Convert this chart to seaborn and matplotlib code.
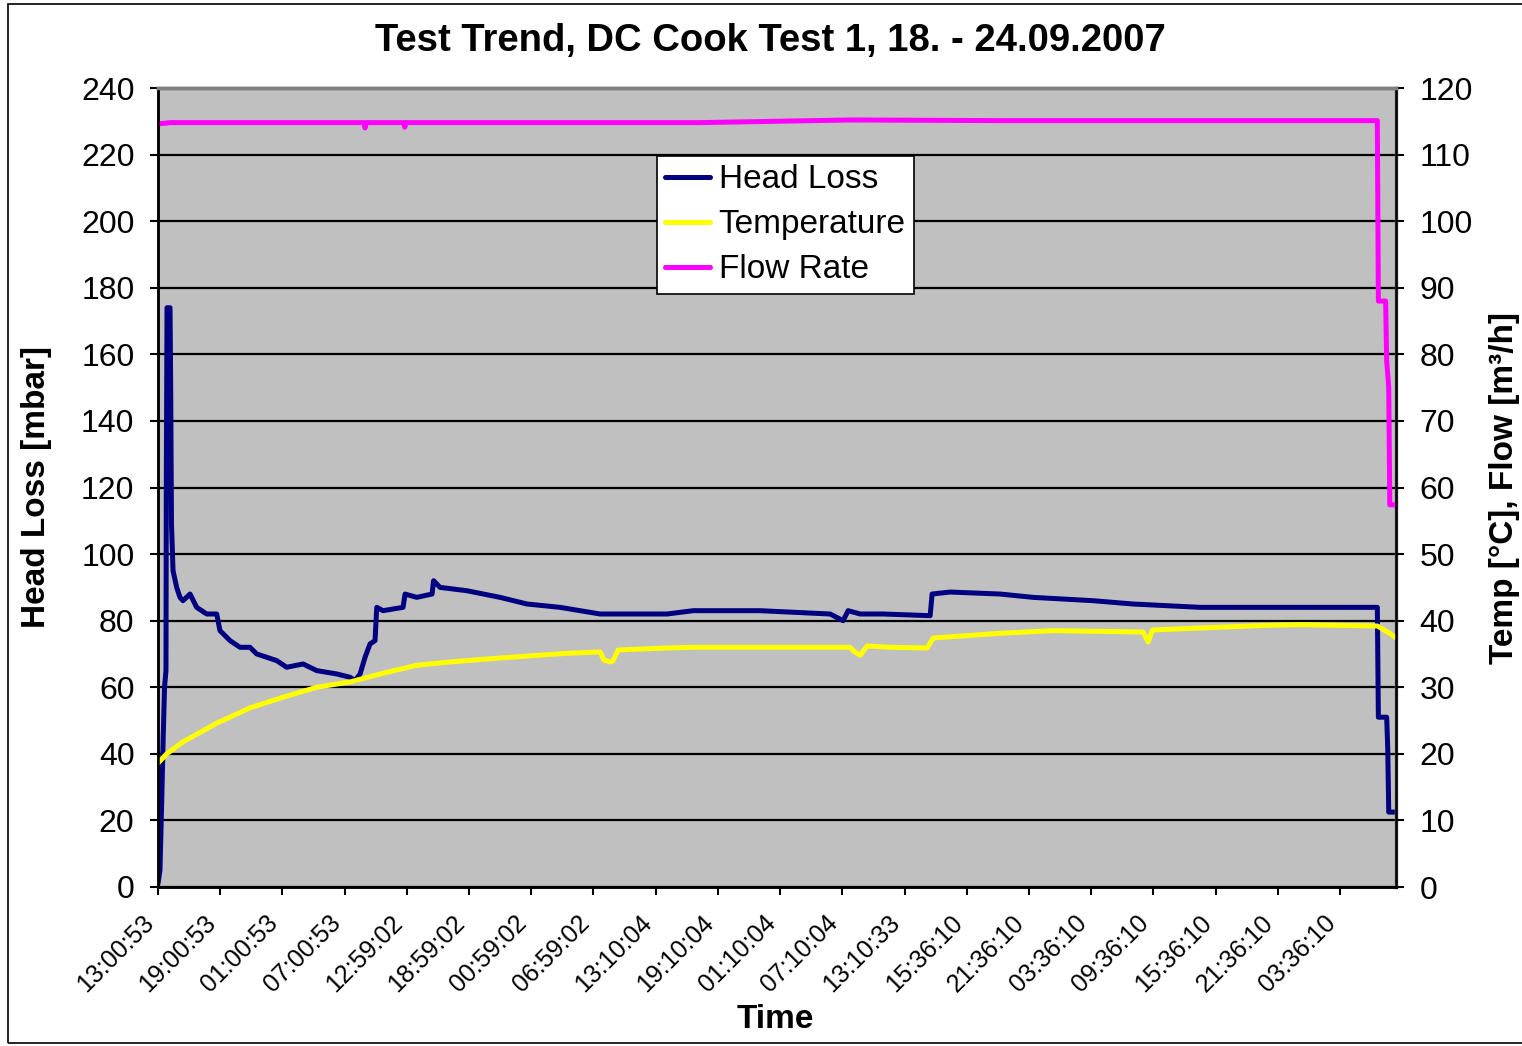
import matplotlib
matplotlib.use("Agg")
import matplotlib.pyplot as plt
from matplotlib.patches import Rectangle
from matplotlib.lines import Line2D
from matplotlib.transforms import ScaledTranslation, blended_transform_factory
import seaborn as sns
import pandas as pd

# Elapsed time in hours from the start of the test (13:00:53 on 18.09.2007)
hl_hours = [0.0, 0.19, 0.36, 0.51, 0.63, 0.77, 0.80, 0.87, 1.16, 1.23, 1.30, 1.45, 1.80,
            2.12, 2.41, 3.09, 3.73, 4.70, 5.66, 5.98, 6.95, 7.91, 8.87, 9.52, 10.49,
            11.45, 12.41, 13.99, 15.31, 17.24, 18.52, 19.00, 19.49, 19.97, 20.45, 20.93,
            21.10, 21.70, 23.63, 23.83, 24.95, 26.43, 26.58, 27.20, 29.78, 32.99, 35.60,
            38.78, 42.64, 46.50, 49.10, 51.61, 58.07, 64.82, 66.08, 66.56, 67.72, 69.94,
            74.47, 74.66, 76.40, 81.22, 84.40, 90.19, 94.05, 100.51, 110.16, 117.60,
            117.70, 118.50, 118.60, 118.70, 119.40]
head_loss = [1, 5, 26, 46, 60, 65, 120, 174, 174, 147, 109, 95, 90,
             87, 86, 88, 84, 82, 82, 77, 74, 72, 72, 70, 69,
             68, 66, 67, 65, 64, 63, 62, 64, 69, 73, 74,
             84, 83, 84, 88, 87, 88, 92, 90, 89, 87, 85,
             84, 82, 82, 82, 83, 83, 82, 80, 83, 82, 82,
             81.5, 88, 88.6, 88, 87, 86, 85, 84, 84, 84,
             51, 51, 42, 22.5, 22.5]

temp_hours = [0.0, 0.84, 2.41, 5.66, 8.87, 12.06, 15.31, 18.52, 21.70, 24.95, 28.17,
              32.99, 39.45, 42.64, 43.00, 43.60, 43.90, 44.37, 49.10, 51.60, 66.75,
              67.20, 67.72, 68.39, 70.60, 74.18, 74.76, 81.22, 86.33, 95.00, 95.50,
              95.90, 100.51, 107.00, 110.16, 117.60, 118.80, 119.40]
temperature = [18.6, 20.0, 21.8, 24.6, 26.9, 28.5, 30.0, 30.8, 32.1, 33.3, 33.8,
               34.4, 35.1, 35.3, 34.1, 33.8, 34.0, 35.6, 35.9, 36.0, 36.0,
               35.3, 34.8, 36.2, 36.0, 35.9, 37.4, 38.1, 38.5, 38.3, 36.8,
               38.6, 38.9, 39.3, 39.4, 39.2, 38.1, 37.4]

flow_hours = [0.0, 1.16, 19.85, 19.97, 20.10, 23.70, 23.80, 23.90, 52.30, 66.80, 81.20,
              117.60, 117.70, 118.40, 118.50, 118.70, 118.80, 119.40]
flow_rate = [114.6, 114.8, 114.8, 114.0, 114.8, 114.8, 114.1, 114.8, 114.8, 115.2, 115.1,
             115.1, 88.0, 88.0, 79.0, 75.0, 57.4, 57.4]

tick_labels = ["13:00:53", "19:00:53", "01:00:53", "07:00:53", "12:59:02", "18:59:02",
               "00:59:02", "06:59:02", "13:10:04", "19:10:04", "01:10:04", "07:10:04",
               "13:10:33", "15:36:10", "21:36:10", "03:36:10", "09:36:10", "15:36:10",
               "21:36:10", "03:36:10", ""]
tick_step_hours = 6

df_hl = pd.DataFrame({"hours": hl_hours, "value": head_loss})
df_t = pd.DataFrame({"hours": temp_hours, "value": temperature})
df_f = pd.DataFrame({"hours": flow_hours, "value": flow_rate})

sns.set_theme(style="white")
plt.rcParams["font.family"] = ["Liberation Sans", "DejaVu Sans"]
plt.rcParams.update({"text.color": "black", "axes.labelcolor": "black",
                     "xtick.color": "black", "ytick.color": "black"})

fig = plt.figure(figsize=(15.22, 10.46), dpi=100)
ax = fig.add_axes([158 / 1522, 1 - 887 / 1046, (1396 - 158) / 1522, (887 - 88) / 1046])
ax.set_facecolor("#C0C0C0")
ax2 = ax.twinx()
ax2.patch.set_visible(False)

c_hl, c_t, c_f = "#000080", "#FFFF00", "#FF00FF"
lw = 3.6

sns.lineplot(data=df_hl, x="hours", y="value", ax=ax, color=c_hl, linewidth=lw,
             estimator=None, sort=False, legend=False)
sns.lineplot(data=df_t, x="hours", y="value", ax=ax2, color=c_t, linewidth=lw,
             estimator=None, sort=False, legend=False)
sns.lineplot(data=df_f, x="hours", y="value", ax=ax2, color=c_f, linewidth=lw,
             estimator=None, sort=False, legend=False)

ax.set_xlim(0, 119.4)
ax.set_ylim(0, 240)
ax2.set_ylim(0, 120)
ax.set_yticks(range(0, 241, 20))
ax2.set_yticks(range(0, 121, 10))
ticks = [i * tick_step_hours for i in range(len(tick_labels)) if i * tick_step_hours <= 119.4]
ax.set_xticks(ticks)
ax.set_xticklabels([])

# Rotated time labels hanging below and left of each tick
label_tr = blended_transform_factory(ax.transData, ax.transAxes) + \
    ScaledTranslation(-8 / 100, -32 / 100, fig.dpi_scale_trans)
for pos, text in zip(ticks, tick_labels):
    ax.text(pos, 0, text, transform=label_tr, rotation=45, ha="right", va="center",
            rotation_mode="anchor", fontsize=18, color="black", clip_on=False)

ax.yaxis.grid(True, color="black", linewidth=1.6)
ax.xaxis.grid(False)
ax.set_axisbelow(True)

for a in (ax, ax2):
    a.tick_params(axis="both", which="major", direction="out", length=6, width=1.5,
                  color="black", labelcolor="black", labelsize=23, pad=11)
    for side in ("left", "bottom"):
        a.spines[side].set_color("black")
        a.spines[side].set_linewidth(1.8)
    for side in ("top", "right"):
        a.spines[side].set_color("#808080")
        a.spines[side].set_linewidth(2.5)
ax2.spines["right"].set_color("black")
ax2.spines["right"].set_linewidth(1.8)
ax.tick_params(left=True, bottom=True)
ax2.tick_params(right=True)

ax.set_xlabel("Time", fontsize=24, fontweight="bold", color="black")
ax.xaxis.set_label_coords(0.499, -0.147)
ax.set_ylabel("Head Loss [mbar]", fontsize=24, fontweight="bold", color="black")
ax.yaxis.set_label_coords(-0.0856, 0.5)
ax2.set_ylabel("Temp [°C], Flow [m³/h]", fontsize=24, fontweight="bold", color="black")
ax2.yaxis.set_label_coords(1.075, 0.5)

fig.text(770 / 1522, 1 - 41 / 1046, "Test Trend, DC Cook Test 1, 18. - 24.09.2007",
         ha="center", va="center", fontsize=27.5, fontweight="bold", color="black")

handles = [Line2D([], [], color=c_hl, linewidth=lw),
           Line2D([], [], color=c_t, linewidth=lw),
           Line2D([], [], color=c_f, linewidth=lw)]
leg = ax2.legend(handles, ["Head Loss", "Temperature", "Flow Rate"],
                 loc="upper left", bbox_to_anchor=(0.403, 0.915), borderaxespad=0,
                 fontsize=24, frameon=True, fancybox=False, framealpha=1,
                 edgecolor="black", handlelength=1.35, handletextpad=0.25,
                 labelspacing=0.42, borderpad=0.25, labelcolor="black")
leg.get_frame().set_linewidth(1.2)

fig.patches.append(Rectangle((8 / 1522, 3 / 1046), 1.2, (1042 - 3) / 1046,
                             transform=fig.transFigure, fill=False,
                             edgecolor="black", linewidth=1.2))

fig.savefig("out.png", dpi=100)
